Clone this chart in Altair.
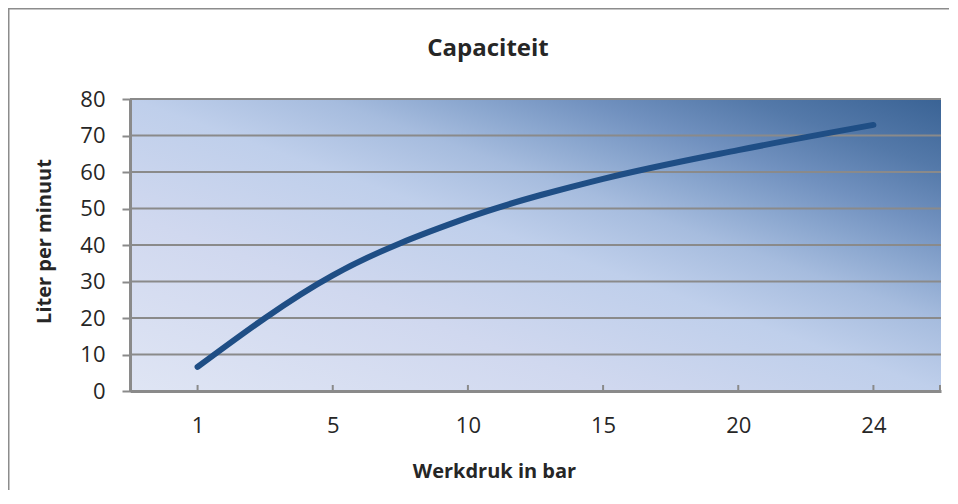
import altair as alt
import pandas as pd

# ---- data ----
categories = ["1", "5", "10", "15", "20", "24"]
liters = [6.6, 31.7, 47.5, 58.1, 66.0, 72.9]
y_ticks = [0, 10, 20, 30, 40, 50, 60, 70, 80]

W, H = 811, 292
FONT = "Open Sans"
TXT = "#262626"
GRAY = "#8a8a8a"

df = pd.DataFrame({"druk": categories, "liter": liters})
grid_df = pd.DataFrame({"liter": y_ticks})

x_enc = alt.X(
    "druk:O",
    sort=categories,
    scale=alt.Scale(type="point", domain=categories, padding=0.5),
    axis=alt.Axis(
        labelAngle=0, ticks=False, grid=False,
        domainColor=GRAY, domainWidth=3,
        labelFont=FONT, labelFontSize=22, labelColor=TXT, labelPadding=24,
        title="Werkdruk in bar", titleFont=FONT, titleFontSize=20,
        titleFontWeight="bold", titleColor=TXT,
        titleX=364, titleY=80, titleAlign="center", titleBaseline="middle",
        zindex=1,
    ),
)

y_enc = alt.Y(
    "liter:Q",
    scale=alt.Scale(domain=[0, 80], nice=False),
    axis=alt.Axis(
        values=y_ticks, grid=False,
        domainColor=GRAY, domainWidth=3,
        tickColor=GRAY, tickWidth=2, tickSize=8,
        labelFont=FONT, labelFontSize=22, labelColor=TXT, labelPadding=17,
        title="Liter per minuut", titleFont=FONT, titleFontSize=20,
        titleFontWeight="bold", titleColor=TXT, titleAngle=270,
        titleX=-86, titleY=142, titleAlign="center", titleBaseline="middle",
        zindex=1,
    ),
)

gradient = alt.LinearGradient(
    gradient="linear",
    stops=[
        alt.GradientStop(offset=0.0, color="#dfe5f4"),
        alt.GradientStop(offset=0.3, color="#d0d8ef"),
        alt.GradientStop(offset=0.5, color="#bfcfeb"),
        alt.GradientStop(offset=0.62, color="#a6bcde"),
        alt.GradientStop(offset=0.7, color="#8ba7cf"),
        alt.GradientStop(offset=0.78, color="#7191bf"),
        alt.GradientStop(offset=0.88, color="#5479a9"),
        alt.GradientStop(offset=1.0, color="#3a6395"),
    ],
    x1=0, y1=1, x2=1, y2=0,
)

one = alt.Data(values=[{}])

frame_left = alt.Chart(one).mark_rule(color="#8c8c8c", strokeWidth=1.5).encode(
    x=alt.value(-121.25), y=alt.value(-90.25), y2=alt.value(H + 99)
)
frame_top = alt.Chart(one).mark_rule(color="#8c8c8c", strokeWidth=1.5).encode(
    x=alt.value(-122), x2=alt.value(W + 8), y=alt.value(-90.25)
)

bg = alt.Chart(one).mark_rect(color=gradient).encode(
    x=alt.value(0), x2=alt.value(W), y=alt.value(0), y2=alt.value(H)
)

grid = alt.Chart(grid_df).mark_rule(color=GRAY, strokeWidth=2).encode(y=y_enc)

xticks = alt.Chart(df).mark_rule(color=GRAY, strokeWidth=2).encode(
    x=x_enc, y=alt.value(H - 6), y2=alt.value(H)
)
end_tick = alt.Chart(one).mark_rule(color=GRAY, strokeWidth=2).encode(
    x=alt.value(W - 1), y=alt.value(H - 6), y2=alt.value(H)
)

line = alt.Chart(df).mark_line(
    color="#1f4e85", strokeWidth=6, strokeCap="round", interpolate="monotone"
).encode(x=x_enc, y=y_enc)

title = alt.Chart(one).mark_text(
    text="Capaciteit", font=FONT, fontSize=24, fontWeight="bold",
    color=TXT, align="center", baseline="alphabetic"
).encode(x=alt.value(358), y=alt.value(-43))

chart = alt.layer(frame_left, frame_top, bg, grid, xticks, end_tick, line, title).properties(
    width=W, height=H,
    autosize=alt.AutoSizeParams(type="none"),
    padding={"left": 122, "top": 91, "right": 8, "bottom": 99},
    background="white",
).configure_view(strokeWidth=0)

chart.save("out.html", embed_options={"renderer": "svg", "actions": False})
